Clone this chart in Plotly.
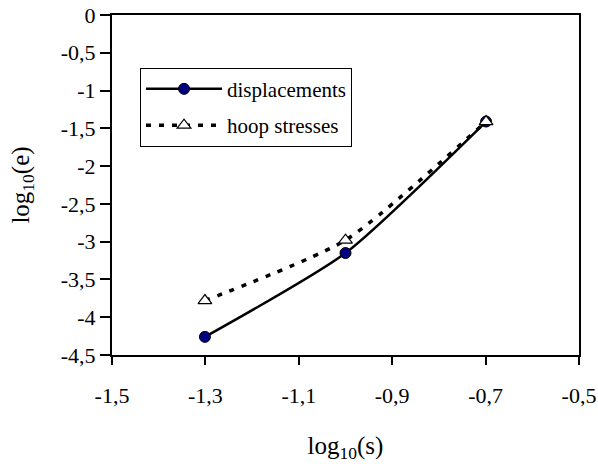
import plotly.graph_objects as go

log_s = [-1.301, -1.0, -0.699]
disp = [-4.26, -3.15, -1.41]
hoop = [-3.78, -2.98, -1.41]

x_ticks = [-1.5, -1.3, -1.1, -0.9, -0.7, -0.5]
x_ticktext = ["-1,5", "-1,3", "-1,1", "-0,9", "-0,7", "-0,5"]
y_ticks = [0, -0.5, -1, -1.5, -2, -2.5, -3, -3.5, -4, -4.5]
y_ticktext = ["0", "-0,5", "-1", "-1,5", "-2", "-2,5", "-3", "-3,5", "-4", "-4,5"]

FONT = "Liberation Serif, Times New Roman, serif"

fig = go.Figure()
fig.add_trace(go.Scatter(
    x=log_s, y=disp, name="displacements", mode="lines+markers",
    line=dict(color="black", width=2.5, shape="spline", smoothing=0.6),
    marker=dict(symbol="circle", size=11, color="#000080", line=dict(color="black", width=1)),
    legendgroup="a",
))
fig.add_trace(go.Scatter(
    x=log_s, y=hoop, name="hoop stresses", mode="lines+markers",
    line=dict(color="black", width=3.5, dash="5px,8px", shape="spline", smoothing=0.6),
    marker=dict(symbol="triangle-up", size=12, color="white", line=dict(color="black", width=1.2)),
    legendgroup="b",
))

fig.update_layout(
    width=598, height=464,
    margin=dict(l=112, r=19, t=15, b=109),
    paper_bgcolor="white", plot_bgcolor="white",
    font=dict(family=FONT, size=21, color="black"),
    showlegend=True,
    legend=dict(
        x=0.06, y=0.845, xanchor="left", yanchor="top",
        bordercolor="black", borderwidth=1, bgcolor="white",
        font=dict(family=FONT, size=21), tracegroupgap=6,
        itemwidth=76,
    ),
    xaxis=dict(
        range=[-1.5, -0.5], tickvals=x_ticks, ticktext=x_ticktext,
        showgrid=False, zeroline=False, automargin=False,
        showline=True, linecolor="black", linewidth=2, mirror=True,
        ticks="outside", ticklen=8, tickwidth=1.5, tickcolor="black",
        tickfont=dict(family=FONT, size=22), ticklabelstandoff=12,
        title=dict(text="log<sub>10</sub>(s)", font=dict(family=FONT, size=25), standoff=29),
    ),
    yaxis=dict(
        range=[-4.5, 0], tickvals=y_ticks, ticktext=y_ticktext,
        showgrid=False, zeroline=False, automargin=False,
        showline=True, linecolor="black", linewidth=2, mirror=True,
        ticks="outside", ticklen=10, tickwidth=1.5, tickcolor="black",
        tickfont=dict(family=FONT, size=22), ticklabelstandoff=0,
        title=dict(text="log<sub>10</sub>(e)", font=dict(family=FONT, size=25), standoff=24),
    ),
)

fig.write_html("out.html")
